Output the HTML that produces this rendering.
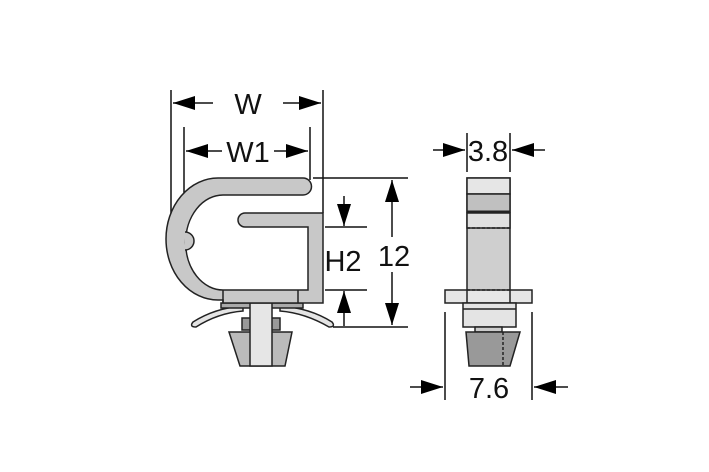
<!DOCTYPE html>
<html><head><style>html,body{margin:0;padding:0;background:#fff}svg{display:block}
text{font-family:"Liberation Sans",sans-serif;font-size:29px;fill:#111}</style></head>
<body>
<svg width="709" height="472" viewBox="0 0 709 472" xmlns="http://www.w3.org/2000/svg">
<defs>
<marker id="b" viewBox="0 0 22 14" markerWidth="22" markerHeight="14" refX="22" refY="7" orient="auto" markerUnits="userSpaceOnUse"><path d="M0,0 L22,7 L0,14Z" fill="#000"/></marker></defs>
<g stroke="#111" stroke-width="1.5" fill="none">
<line x1="171" y1="90" x2="171" y2="240"/><line x1="323" y1="90" x2="323" y2="213"/>
<line x1="213" y1="103" x2="173" y2="103" marker-end="url(#b)"/>
<line x1="283" y1="103" x2="321" y2="103" marker-end="url(#b)"/>
<line x1="184" y1="127" x2="184" y2="253"/><line x1="310" y1="127" x2="310" y2="180"/>
<line x1="222" y1="151" x2="186" y2="151" marker-end="url(#b)"/>
<line x1="274" y1="151" x2="308" y2="151" marker-end="url(#b)"/>
<line x1="313" y1="178" x2="408" y2="178"/><line x1="325" y1="227" x2="367" y2="227"/>
<line x1="325" y1="290" x2="367" y2="290"/><line x1="333" y1="327" x2="408" y2="327"/>
<line x1="392" y1="237" x2="392" y2="180" marker-end="url(#b)"/>
<line x1="392" y1="272" x2="392" y2="325" marker-end="url(#b)"/>
<line x1="344" y1="196" x2="344" y2="226" marker-end="url(#b)"/>
<line x1="344" y1="326" x2="344" y2="291" marker-end="url(#b)"/>
</g>
<text x="248" y="114" text-anchor="middle">W</text>
<text x="248" y="162" text-anchor="middle">W1</text>
<text x="343" y="271" text-anchor="middle">H2</text>
<text x="394" y="266" text-anchor="middle">12</text>
<g stroke="#222" stroke-width="1.5">
<path d="M193,322 Q215,308 243,306 L243,311 Q218,313 196,327 Q189,327 193,322Z" fill="#e4e4e4"/>
<path d="M332,322 Q310,308 280,306 L280,311 Q305,313 329,327 Q336,327 332,322Z" fill="#e4e4e4"/>
<rect x="221" y="303" width="82" height="5" fill="#aaa"/>
<rect x="242" y="318" width="38" height="12" fill="#999"/>
<path d="M229,332 L292,332 L285,366 L240,366Z" fill="#bbb"/>
<rect x="250" y="303" width="22" height="63" fill="#e6e6e6"/>
<path d="M303,178 L218,178 A52,61 0 0 0 218,300 L223,300 L223,303 L323,303 L323,213 L245,213 A7,7 0 0 0 245,227 L308,227 L308,290 L223,290 A37,47 0 0 1 223,195 L303,195 A8.5,8.5 0 0 0 303,178Z" fill="#c8c8c8"/>
<line x1="223" y1="290" x2="223" y2="303"/><line x1="298" y1="290" x2="298" y2="303"/>
<path d="M185,232 A6,6 0 0 1 185,250" fill="#c8c8c8"/>
</g>
<g stroke="#111" stroke-width="1.5" fill="none">
<line x1="467" y1="133" x2="467" y2="172"/><line x1="510" y1="133" x2="510" y2="172"/>
<line x1="433" y1="150" x2="465" y2="150" marker-end="url(#b)"/>
<line x1="545" y1="150" x2="512" y2="150" marker-end="url(#b)"/>
<line x1="445" y1="312" x2="445" y2="400"/><line x1="532" y1="312" x2="532" y2="400"/>
<line x1="410" y1="387" x2="443" y2="387" marker-end="url(#b)"/>
<line x1="568" y1="387" x2="534" y2="387" marker-end="url(#b)"/>
</g>
<text x="488" y="161" text-anchor="middle">3.8</text>
<text x="489" y="398" text-anchor="middle">7.6</text>
<g stroke="#222" stroke-width="1.5">
<rect x="467" y="178" width="43" height="125" fill="#cfcfcf"/>
<rect x="467" y="178" width="43" height="16" fill="#e6e6e6"/>
<rect x="467" y="194" width="43" height="18" fill="#c0c0c0"/>
<line x1="467" y1="212" x2="510" y2="212" stroke-width="3"/>
<rect x="467" y="213" width="43" height="15" fill="#e0e0e0"/>
<line x1="467" y1="228" x2="510" y2="228" stroke-dasharray="3,2"/>
<rect x="445" y="290" width="87" height="13" fill="#e6e6e6"/>
<line x1="467" y1="290" x2="510" y2="290" stroke-dasharray="3,2"/>
<line x1="467" y1="290" x2="467" y2="303"/><line x1="510" y1="290" x2="510" y2="303"/>
<rect x="463" y="303" width="53" height="24" fill="#e4e4e4"/>
<line x1="463" y1="309" x2="516" y2="309"/>
<rect x="475" y="327" width="27" height="5" fill="#ccc"/>
<path d="M466,332 L520,332 L510,366 L469,366Z" fill="#999"/>
<line x1="503" y1="332" x2="503" y2="366" stroke-dasharray="3,2"/>
</g>
</svg>
</body></html>
